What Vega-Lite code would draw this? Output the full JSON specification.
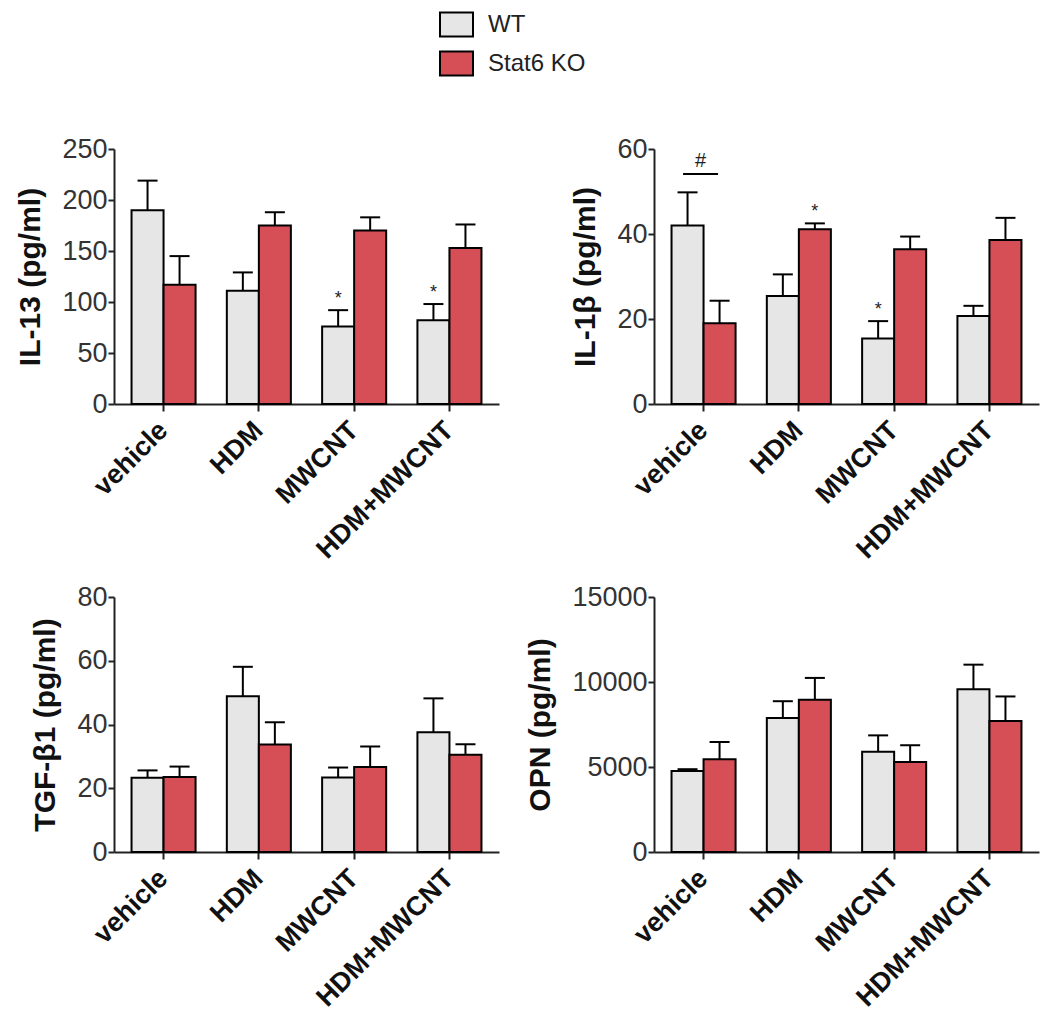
{
  "$schema": "https://vega.github.io/schema/vega-lite/v6.json",
  "padding": {"left": 15, "top": 7, "right": 5, "bottom": 5},
  "background": "white",
  "datasets": {
    "d": [
      {"panel": "IL-13", "treatment": "vehicle", "group": "WT", "value": 190, "err": 219, "sig": ""},
      {"panel": "IL-13", "treatment": "vehicle", "group": "Stat6 KO", "value": 117, "err": 145, "sig": ""},
      {"panel": "IL-13", "treatment": "HDM", "group": "WT", "value": 111, "err": 129, "sig": ""},
      {"panel": "IL-13", "treatment": "HDM", "group": "Stat6 KO", "value": 175, "err": 188, "sig": ""},
      {"panel": "IL-13", "treatment": "MWCNT", "group": "WT", "value": 76, "err": 92, "sig": "*"},
      {"panel": "IL-13", "treatment": "MWCNT", "group": "Stat6 KO", "value": 170, "err": 183, "sig": ""},
      {"panel": "IL-13", "treatment": "HDM+MWCNT", "group": "WT", "value": 82, "err": 98, "sig": "*"},
      {"panel": "IL-13", "treatment": "HDM+MWCNT", "group": "Stat6 KO", "value": 153, "err": 176, "sig": ""},
      {"panel": "IL-1b", "treatment": "vehicle", "group": "WT", "value": 42.0, "err": 49.8, "sig": ""},
      {"panel": "IL-1b", "treatment": "vehicle", "group": "Stat6 KO", "value": 19.0, "err": 24.3, "sig": ""},
      {"panel": "IL-1b", "treatment": "HDM", "group": "WT", "value": 25.4, "err": 30.5, "sig": ""},
      {"panel": "IL-1b", "treatment": "HDM", "group": "Stat6 KO", "value": 41.1, "err": 42.5, "sig": "*"},
      {"panel": "IL-1b", "treatment": "MWCNT", "group": "WT", "value": 15.4, "err": 19.5, "sig": "*"},
      {"panel": "IL-1b", "treatment": "MWCNT", "group": "Stat6 KO", "value": 36.4, "err": 39.4, "sig": ""},
      {"panel": "IL-1b", "treatment": "HDM+MWCNT", "group": "WT", "value": 20.7, "err": 23.1, "sig": ""},
      {"panel": "IL-1b", "treatment": "HDM+MWCNT", "group": "Stat6 KO", "value": 38.6, "err": 43.8, "sig": ""},
      {"panel": "TGF", "treatment": "vehicle", "group": "WT", "value": 23.3, "err": 25.6, "sig": ""},
      {"panel": "TGF", "treatment": "vehicle", "group": "Stat6 KO", "value": 23.5, "err": 26.8, "sig": ""},
      {"panel": "TGF", "treatment": "HDM", "group": "WT", "value": 48.9, "err": 58.1, "sig": ""},
      {"panel": "TGF", "treatment": "HDM", "group": "Stat6 KO", "value": 33.7, "err": 40.7, "sig": ""},
      {"panel": "TGF", "treatment": "MWCNT", "group": "WT", "value": 23.4, "err": 26.5, "sig": ""},
      {"panel": "TGF", "treatment": "MWCNT", "group": "Stat6 KO", "value": 26.7, "err": 33.1, "sig": ""},
      {"panel": "TGF", "treatment": "HDM+MWCNT", "group": "WT", "value": 37.6, "err": 48.2, "sig": ""},
      {"panel": "TGF", "treatment": "HDM+MWCNT", "group": "Stat6 KO", "value": 30.5, "err": 33.8, "sig": ""},
      {"panel": "OPN", "treatment": "vehicle", "group": "WT", "value": 4760, "err": 4870, "sig": ""},
      {"panel": "OPN", "treatment": "vehicle", "group": "Stat6 KO", "value": 5460, "err": 6470, "sig": ""},
      {"panel": "OPN", "treatment": "HDM", "group": "WT", "value": 7880, "err": 8870, "sig": ""},
      {"panel": "OPN", "treatment": "HDM", "group": "Stat6 KO", "value": 8950, "err": 10240, "sig": ""},
      {"panel": "OPN", "treatment": "MWCNT", "group": "WT", "value": 5890, "err": 6860, "sig": ""},
      {"panel": "OPN", "treatment": "MWCNT", "group": "Stat6 KO", "value": 5300, "err": 6280, "sig": ""},
      {"panel": "OPN", "treatment": "HDM+MWCNT", "group": "WT", "value": 9580, "err": 11020, "sig": ""},
      {"panel": "OPN", "treatment": "HDM+MWCNT", "group": "Stat6 KO", "value": 7700, "err": 9150, "sig": ""}
    ],
    "ann": [
      {"panel": "IL-1b", "treatment": "vehicle", "y": 54.1, "label": "#"}
    ]
  },
  "config": {
    "font": "Liberation Sans",
    "view": {"stroke": null},
    "axis": {"grid": false, "domainColor": "#222", "domainWidth": 2, "tickColor": "#222", "tickWidth": 2, "labelColor": "#333", "titleColor": "#111"},
    "axisY": {"labelFontSize": 27, "tickSize": 6, "labelPadding": 1, "titleFontSize": 30, "titleFontWeight": "bold", "titlePadding": 16},
    "axisX": {"labelAngle": -45, "labelAlign": "right", "labelBaseline": "middle", "labelFontSize": 27, "labelFontWeight": "bold", "labelColor": "#111", "tickSize": 7, "labelPadding": 15, "labelLimit": 400, "labelOverlap": false}
  },
  "columns": 2,
  "spacing": {"row": 20, "column": 26},
  "resolve": {"scale": {"y": "independent"}},
  "concat": [
    {
      "width": 385, "height": 255,
      "data": {"name": "d"},
      "transform": [{"filter": "datum.panel === 'IL-13'"}],
      "encoding": {
        "x": {"field": "treatment", "type": "nominal", "sort": ["vehicle", "HDM", "MWCNT", "HDM+MWCNT"], "scale": {"paddingInner": 0.328, "paddingOuter": 0.184}, "axis": {"title": null}},
        "xOffset": {"field": "group", "type": "nominal", "sort": ["WT", "Stat6 KO"], "scale": {"paddingInner": 0, "paddingOuter": 0}}
      },
      "layer": [
        {"mark": {"type": "bar", "stroke": "black", "strokeWidth": 2},
         "encoding": {
           "y": {"field": "value", "type": "quantitative", "title": "IL-13 (pg/ml)", "scale": {"domain": [0, 250], "nice": false}, "axis": {"values": [0, 50, 100, 150, 200, 250]}},
           "fill": {"field": "group", "type": "nominal", "sort": ["WT", "Stat6 KO"], "scale": {"domain": ["WT", "Stat6 KO"], "range": ["#E6E6E6", "#D64F57"]},
             "legend": {"title": null, "orient": "none", "legendX": 325, "legendY": -142, "symbolType": "M-1,-0.727L1,-0.727L1,0.727L-1,0.727Z", "symbolSize": 1089, "symbolStrokeColor": "black", "symbolStrokeWidth": 2, "labelFontSize": 24, "labelColor": "#222", "labelOffset": 14, "rowPadding": 5, "padding": 0}}
         }},
        {"mark": {"type": "rule", "strokeWidth": 2, "color": "black"},
         "encoding": {"y": {"field": "value", "type": "quantitative", "title": "IL-13 (pg/ml)"}, "y2": {"field": "err"}}},
        {"mark": {"type": "tick", "thickness": 2, "size": 20, "color": "black", "opacity": 1},
         "encoding": {"y": {"field": "err", "type": "quantitative", "title": "IL-13 (pg/ml)"}}},
        {"transform": [{"filter": "datum.sig !== ''"}],
         "mark": {"type": "text", "fontSize": 18, "dy": -6, "baseline": "alphabetic", "color": "#222"},
         "encoding": {"y": {"field": "err", "type": "quantitative", "title": "IL-13 (pg/ml)"}, "text": {"field": "sig"}}}
      ]
    },
    {
      "width": 385, "height": 255,
      "layer": [
        {
          "data": {"name": "d"},
          "transform": [{"filter": "datum.panel === 'IL-1b'"}],
          "encoding": {
            "x": {"field": "treatment", "type": "nominal", "sort": ["vehicle", "HDM", "MWCNT", "HDM+MWCNT"], "scale": {"paddingInner": 0.328, "paddingOuter": 0.184}, "axis": {"title": null}},
            "xOffset": {"field": "group", "type": "nominal", "sort": ["WT", "Stat6 KO"], "scale": {"paddingInner": 0, "paddingOuter": 0}}
          },
          "layer": [
            {"mark": {"type": "bar", "stroke": "black", "strokeWidth": 2},
             "encoding": {
               "y": {"field": "value", "type": "quantitative", "title": "IL-1β (pg/ml)", "scale": {"domain": [0, 60], "nice": false}, "axis": {"values": [0, 20, 40, 60]}},
               "fill": {"field": "group", "type": "nominal", "sort": ["WT", "Stat6 KO"], "scale": {"domain": ["WT", "Stat6 KO"], "range": ["#E6E6E6", "#D64F57"]},
                 "legend": {"title": null, "orient": "none", "legendX": 325, "legendY": -142, "symbolType": "M-1,-0.727L1,-0.727L1,0.727L-1,0.727Z", "symbolSize": 1089, "symbolStrokeColor": "black", "symbolStrokeWidth": 2, "labelFontSize": 24, "labelColor": "#222", "labelOffset": 14, "rowPadding": 5, "padding": 0}}
             }},
            {"mark": {"type": "rule", "strokeWidth": 2, "color": "black"},
             "encoding": {"y": {"field": "value", "type": "quantitative", "title": "IL-1β (pg/ml)"}, "y2": {"field": "err"}}},
            {"mark": {"type": "tick", "thickness": 2, "size": 20, "color": "black", "opacity": 1},
             "encoding": {"y": {"field": "err", "type": "quantitative", "title": "IL-1β (pg/ml)"}}},
            {"transform": [{"filter": "datum.sig !== ''"}],
             "mark": {"type": "text", "fontSize": 18, "dy": -6, "baseline": "alphabetic", "color": "#222"},
             "encoding": {"y": {"field": "err", "type": "quantitative", "title": "IL-1β (pg/ml)"}, "text": {"field": "sig"}}}
          ]
        },
        {
          "data": {"name": "ann"},
          "encoding": {
            "x": {"field": "treatment", "type": "nominal", "sort": ["vehicle", "HDM", "MWCNT", "HDM+MWCNT"]},
            "y": {"field": "y", "type": "quantitative", "title": "IL-1β (pg/ml)"}
          },
          "layer": [
            {"mark": {"type": "tick", "thickness": 2, "size": 35, "color": "black", "opacity": 1, "xOffset": -3}},
            {"mark": {"type": "text", "fontSize": 20, "baseline": "bottom", "dy": -3, "dx": -3, "color": "#222"}, "encoding": {"text": {"field": "label"}}}
          ]
        }
      ]
    },
    {
      "width": 385, "height": 255,
      "data": {"name": "d"},
      "transform": [{"filter": "datum.panel === 'TGF'"}],
      "encoding": {
        "x": {"field": "treatment", "type": "nominal", "sort": ["vehicle", "HDM", "MWCNT", "HDM+MWCNT"], "scale": {"paddingInner": 0.328, "paddingOuter": 0.184}, "axis": {"title": null}},
        "xOffset": {"field": "group", "type": "nominal", "sort": ["WT", "Stat6 KO"], "scale": {"paddingInner": 0, "paddingOuter": 0}}
      },
      "layer": [
        {"mark": {"type": "bar", "stroke": "black", "strokeWidth": 2},
         "encoding": {
           "y": {"field": "value", "type": "quantitative", "title": "TGF-β1 (pg/ml)", "scale": {"domain": [0, 80], "nice": false}, "axis": {"values": [0, 20, 40, 60, 80]}},
           "fill": {"field": "group", "type": "nominal", "sort": ["WT", "Stat6 KO"], "scale": {"domain": ["WT", "Stat6 KO"], "range": ["#E6E6E6", "#D64F57"]},
             "legend": {"title": null, "orient": "none", "legendX": 325, "legendY": -142, "symbolType": "M-1,-0.727L1,-0.727L1,0.727L-1,0.727Z", "symbolSize": 1089, "symbolStrokeColor": "black", "symbolStrokeWidth": 2, "labelFontSize": 24, "labelColor": "#222", "labelOffset": 14, "rowPadding": 5, "padding": 0}}
         }},
        {"mark": {"type": "rule", "strokeWidth": 2, "color": "black"},
         "encoding": {"y": {"field": "value", "type": "quantitative", "title": "TGF-β1 (pg/ml)"}, "y2": {"field": "err"}}},
        {"mark": {"type": "tick", "thickness": 2, "size": 20, "color": "black", "opacity": 1},
         "encoding": {"y": {"field": "err", "type": "quantitative", "title": "TGF-β1 (pg/ml)"}}}
      ]
    },
    {
      "width": 385, "height": 255,
      "data": {"name": "d"},
      "transform": [{"filter": "datum.panel === 'OPN'"}],
      "encoding": {
        "x": {"field": "treatment", "type": "nominal", "sort": ["vehicle", "HDM", "MWCNT", "HDM+MWCNT"], "scale": {"paddingInner": 0.328, "paddingOuter": 0.184}, "axis": {"title": null}},
        "xOffset": {"field": "group", "type": "nominal", "sort": ["WT", "Stat6 KO"], "scale": {"paddingInner": 0, "paddingOuter": 0}}
      },
      "layer": [
        {"mark": {"type": "bar", "stroke": "black", "strokeWidth": 2},
         "encoding": {
           "y": {"field": "value", "type": "quantitative", "title": "OPN (pg/ml)", "scale": {"domain": [0, 15000], "nice": false}, "axis": {"values": [0, 5000, 10000, 15000], "format": "d"}},
           "fill": {"field": "group", "type": "nominal", "sort": ["WT", "Stat6 KO"], "scale": {"domain": ["WT", "Stat6 KO"], "range": ["#E6E6E6", "#D64F57"]},
             "legend": {"title": null, "orient": "none", "legendX": 325, "legendY": -142, "symbolType": "M-1,-0.727L1,-0.727L1,0.727L-1,0.727Z", "symbolSize": 1089, "symbolStrokeColor": "black", "symbolStrokeWidth": 2, "labelFontSize": 24, "labelColor": "#222", "labelOffset": 14, "rowPadding": 5, "padding": 0}}
         }},
        {"mark": {"type": "rule", "strokeWidth": 2, "color": "black"},
         "encoding": {"y": {"field": "value", "type": "quantitative", "title": "OPN (pg/ml)"}, "y2": {"field": "err"}}},
        {"mark": {"type": "tick", "thickness": 2, "size": 20, "color": "black", "opacity": 1},
         "encoding": {"y": {"field": "err", "type": "quantitative", "title": "OPN (pg/ml)"}}}
      ]
    }
  ]
}
